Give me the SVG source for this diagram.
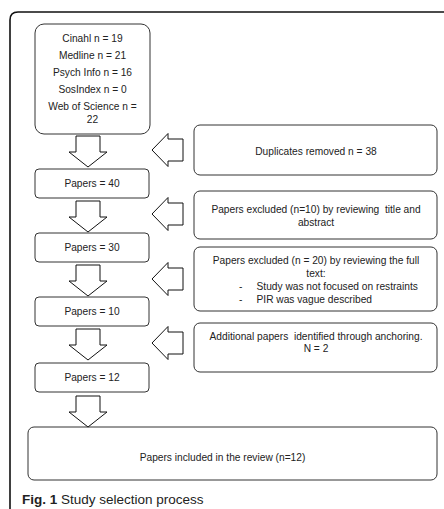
<svg xmlns="http://www.w3.org/2000/svg" width="444" height="509" viewBox="0 0 444 509">
<style>
.box{fill:#fff;stroke:#333;stroke-width:1}
.arr{fill:#fff;stroke:#111;stroke-width:1;stroke-linejoin:miter}
.t{font-family:"Liberation Sans",Arial,sans-serif;font-size:10.2px;fill:#222;text-anchor:middle;white-space:pre}
.tl{font-family:"Liberation Sans",Arial,sans-serif;font-size:10.2px;fill:#222}
.cap{font-family:"Liberation Sans",Arial,sans-serif;font-size:13.5px;fill:#222}
</style>
<rect width="444" height="509" fill="#fff"/>
<path d="M10,509 L10,20 Q10,12 18,12 L444,12" fill="none" stroke="#111" stroke-width="1.6"/>

<g id="sources">
<rect class="box" x="35" y="24" width="115" height="110" rx="9"/>
<text class="t" x="92.5" y="42">Cinahl n = 19</text>
<text class="t" x="92.5" y="59">Medline n = 21</text>
<text class="t" x="92.5" y="76">Psych Info n = 16</text>
<text class="t" x="92.5" y="93">SosIndex n = 0</text>
<text class="t" x="92.5" y="110">Web of Science n =</text>
<text class="t" x="92.5" y="123">22</text>
</g>
<g id="papers40">
<rect class="box" x="35" y="169" width="114" height="29" rx="4"/>
<text class="t" x="92" y="187">Papers = 40</text>
</g>
<g id="papers30">
<rect class="box" x="35" y="233" width="114" height="29" rx="4"/>
<text class="t" x="92" y="251">Papers = 30</text>
</g>
<g id="papers10">
<rect class="box" x="35" y="297" width="114" height="29" rx="4"/>
<text class="t" x="92" y="315">Papers = 10</text>
</g>
<g id="papers12">
<rect class="box" x="35" y="363" width="114" height="29" rx="4"/>
<text class="t" x="92" y="381">Papers = 12</text>
</g>
<g id="duplicates">
<rect class="box" x="194" y="125" width="243" height="50" rx="6"/>
<text class="t" x="316" y="154.5">Duplicates removed n = 38</text>
</g>
<g id="excluded1">
<rect class="box" x="194" y="191" width="243" height="48" rx="6"/>
<text class="t" x="316" y="212.5" xml:space="preserve">Papers excluded (n=10) by reviewing  title and</text>
<text class="t" x="316" y="226">abstract</text>
</g>
<g id="excluded2">
<rect class="box" x="194" y="247" width="243" height="64" rx="6"/>
<text class="t" x="316" y="263.5">Papers excluded (n = 20) by reviewing the full</text>
<text class="t" x="316" y="277">text:</text>
<text class="tl" x="239" y="289.5">-</text>
<text class="tl" x="256.5" y="289.5">Study was not focused on restraints</text>
<text class="tl" x="239" y="303">-</text>
<text class="tl" x="256.5" y="303">PIR was vague described</text>
</g>
<g id="additional">
<rect class="box" x="194" y="323" width="243" height="49" rx="6"/>
<text class="t" x="316" y="340" xml:space="preserve">Additional papers  identified through anchoring.</text>
<text class="t" x="316" y="352">N = 2</text>
</g>
<g id="included">
<rect class="box" x="28" y="427" width="409" height="53" rx="6"/>
<text class="t" x="222.5" y="461">Papers included in the review (n=12)</text>
</g>

<g id="connectors">
<path class="arr" d="M76,136 L100,136 L100,152 L107,152 L88,167 L69,152 L76,152 Z"/>
<path class="arr" d="M76,201 L100,201 L100,217 L107,217 L88,232 L69,217 L76,217 Z"/>
<path class="arr" d="M76,265 L100,265 L100,281 L107,281 L88,296 L69,281 L76,281 Z"/>
<path class="arr" d="M76,329 L100,329 L100,345 L107,345 L88,360 L69,345 L76,345 Z"/>
<path class="arr" d="M76,396 L100,396 L100,412 L107,412 L88,427 L69,412 L76,412 Z"/>
<path class="arr" d="M152,150 L168,133.5 L168,139 L183,139 L183,161 L168,161 L168,166.5 Z"/>
<path class="arr" d="M152,214 L168,197.5 L168,203 L183,203 L183,225 L168,225 L168,230.5 Z"/>
<path class="arr" d="M152,279 L168,262.5 L168,268 L183,268 L183,290 L168,290 L168,295.5 Z"/>
<path class="arr" d="M152,343 L168,326.5 L168,332 L183,332 L183,354 L168,354 L168,359.5 Z"/>
</g>

<text class="cap" x="22" y="503.5"><tspan font-weight="bold">Fig. 1</tspan> Study selection process</text>
</svg>
